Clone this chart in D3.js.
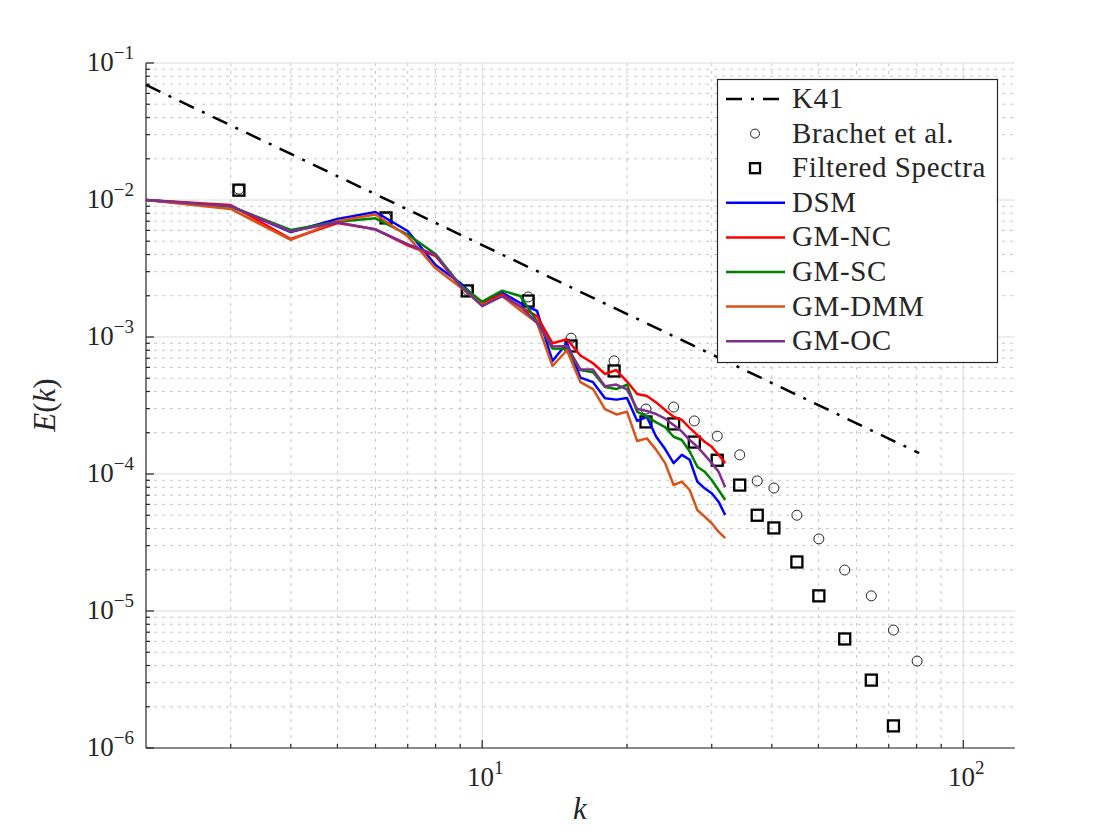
<!DOCTYPE html>
<html>
<head>
<meta charset="utf-8">
<script src="https://cdn.jsdelivr.net/npm/d3@7/dist/d3.min.js"></script>
<style>
  html, body { margin: 0; padding: 0; background: #fff; }
  svg { display: block; }
  text { font-family: "Liberation Serif", "DejaVu Serif", serif; fill: #262626; }
</style>
</head>
<body>
<svg id="chart" width="1120" height="840"></svg>
<script>
// ---------- data ----------
const kLES = [2,3,4,5,6,7,8,9,10,11,12,13,14,15,16,17,18,19,20,21,22,23,24,25,26,27,28,29,30,31,32];

const dsm   = [0.0100,0.00897,0.00584,0.00727,0.00818,0.00594,0.00335,0.00248,0.00174,0.00211,0.00177,0.00155,0.000668,0.000904,0.000505,0.000468,0.000357,0.000349,0.000359,0.000244,0.000261,0.000187,0.000152,0.000120,0.000138,0.000127,0.0000879,0.0000786,0.0000723,0.0000628,0.0000502];
const gmNC  = [0.0100,0.00919,0.00519,0.00679,0.00611,0.00466,0.00390,0.00236,0.00176,0.00205,0.00166,0.00142,0.000900,0.000962,0.000733,0.000643,0.000537,0.000574,0.000473,0.000384,0.000371,0.000333,0.000293,0.000262,0.000248,0.000217,0.000193,0.000172,0.000158,0.000138,0.000120];
const gmSC  = [0.0100,0.00897,0.00604,0.00694,0.00735,0.00560,0.00404,0.00240,0.00181,0.00218,0.00199,0.00130,0.000824,0.000822,0.000574,0.000553,0.000432,0.000417,0.000448,0.000284,0.000263,0.000238,0.000220,0.000187,0.000177,0.000146,0.000113,0.000104,0.0000904,0.0000764,0.0000646];
const gmDMM = [0.0100,0.00860,0.00511,0.00703,0.00784,0.00543,0.00317,0.00232,0.00171,0.00199,0.00157,0.00127,0.000614,0.000800,0.000469,0.000417,0.000298,0.000272,0.000285,0.000174,0.000182,0.000150,0.000120,0.0000831,0.0000879,0.0000764,0.0000546,0.0000488,0.0000437,0.0000379,0.0000340];
const gmOC  = [0.0100,0.00904,0.00589,0.00687,0.00609,0.00477,0.00397,0.00236,0.00168,0.00199,0.00168,0.00127,0.000852,0.000860,0.000578,0.000578,0.000437,0.000450,0.000414,0.000298,0.000288,0.000274,0.000254,0.000228,0.000204,0.000177,0.000158,0.000138,0.000120,0.000104,0.0000800];

const brachetK = [3.12,6.31,9.31,12.46,15.3,18.8,21.9,25.0,27.6,30.8,34.3,37.3,40.4,45.1,50.1,56.7,64.4,71.6,80.2];
const brachetE = [1.20e-2,7.4e-3,2.2e-3,1.96e-3,9.8e-4,6.7e-4,2.98e-4,3.08e-4,2.44e-4,1.89e-4,1.38e-4,8.9e-5,7.9e-5,5.0e-5,3.36e-5,1.99e-5,1.29e-5,7.26e-6,4.31e-6];

const filteredK = [3.12,6.31,9.31,12.46,15.3,18.8,21.9,25.0,27.6,30.8,34.3,37.3,40.4,45.1,50.1,56.7,64.4,71.6];
const filteredE = [1.18e-2,7.4e-3,2.17e-3,1.83e-3,8.6e-4,5.65e-4,2.40e-4,2.32e-4,1.71e-4,1.26e-4,8.3e-5,5.0e-5,4.04e-5,2.28e-5,1.29e-5,6.25e-6,3.13e-6,1.45e-6];

const k41K = [2, 81];
const k41E = [0.0691, 1.42e-4];

const seriesNames = ["DSM","GM-NC","GM-SC","GM-DMM","GM-OC"];
const seriesData  = [dsm, gmNC, gmSC, gmDMM, gmOC];
const seriesColors = ["#0000ff","#ff0000","#008000","#d95319","#7e2f8e"];

const xTickVals = [10, 100];
const xTickExp  = ["1","2"];
const yTickVals = [1e-1,1e-2,1e-3,1e-4,1e-5,1e-6];
const yTickExp  = ["\u22121","\u22122","\u22123","\u22124","\u22125","\u22126"];

// ---------- layout ----------
const L = 146, R = 1014.8, T = 63, B = 748;
const svg = d3.select("#chart");
const x = d3.scaleLog().domain([2, 128]).range([L, R]);
const y = d3.scaleLog().domain([1e-6, 1e-1]).range([B, T]);

// minor values
const xMinor = [];
[1,10,100].forEach(d => { for (let m = 2; m <= 9; m++) { const v = d*m; if (v > 2 && v < 128) xMinor.push(v); } });
const yMinor = [];
[1e-6,1e-5,1e-4,1e-3,1e-2].forEach(d => { for (let m = 2; m <= 9; m++) yMinor.push(d*m); });

// ---------- grid ----------
const grid = svg.append("g");
grid.selectAll(".xmin").data(xMinor).join("line")
  .attr("x1", d => x(d)).attr("x2", d => x(d)).attr("y1", T).attr("y2", B)
  .attr("stroke", "#c6c6c6").attr("stroke-width", 1).attr("stroke-dasharray", "3,5");
grid.selectAll(".ymin").data(yMinor).join("line")
  .attr("x1", L).attr("x2", R).attr("y1", d => y(d)).attr("y2", d => y(d))
  .attr("stroke", "#c6c6c6").attr("stroke-width", 1).attr("stroke-dasharray", "3,5");
grid.selectAll(".xmaj").data(xTickVals).join("line")
  .attr("x1", d => x(d)).attr("x2", d => x(d)).attr("y1", T).attr("y2", B)
  .attr("stroke", "#dcdcdc").attr("stroke-width", 1);
grid.selectAll(".ymaj").data(yTickVals).join("line")
  .attr("x1", L).attr("x2", R).attr("y1", d => y(d)).attr("y2", d => y(d))
  .attr("stroke", "#dcdcdc").attr("stroke-width", 1);

// ---------- axes (spines + inward ticks) ----------
const ax = svg.append("g").attr("stroke", "#262626").attr("stroke-width", 1.2);
ax.append("line").attr("x1", L).attr("x2", L).attr("y1", T).attr("y2", B);
ax.append("line").attr("x1", L).attr("x2", R).attr("y1", B).attr("y2", B);
ax.selectAll(".ytm").data(yTickVals).join("line")
  .attr("x1", L).attr("x2", L + 8).attr("y1", d => y(d)).attr("y2", d => y(d));
ax.selectAll(".ytn").data(yMinor).join("line")
  .attr("x1", L).attr("x2", L + 4).attr("y1", d => y(d)).attr("y2", d => y(d));
ax.selectAll(".xtm").data(xTickVals).join("line")
  .attr("x1", d => x(d)).attr("x2", d => x(d)).attr("y1", B).attr("y2", B - 8);
ax.selectAll(".xtn").data(xMinor).join("line")
  .attr("x1", d => x(d)).attr("x2", d => x(d)).attr("y1", B).attr("y2", B - 4);

// tick labels
const yl = svg.append("g");
yTickVals.forEach((v, i) => {
  const t = yl.append("text").attr("x", 134).attr("y", y(v) + 8).attr("text-anchor", "end")
    .attr("font-size", 27);
  t.append("tspan").text("10");
  t.append("tspan").attr("dy", -12).attr("font-size", 19).text(yTickExp[i]);
});
xTickVals.forEach((v, i) => {
  const t = svg.append("text").attr("x", x(v) + 3).attr("y", 786).attr("text-anchor", "middle")
    .attr("font-size", 27);
  t.append("tspan").text("10");
  t.append("tspan").attr("dy", -12).attr("font-size", 19).text(xTickExp[i]);
});

// axis labels
svg.append("text").attr("x", 580).attr("y", 819).attr("text-anchor", "middle")
  .attr("font-size", 31).attr("font-style", "italic").text("k");
const ylab = svg.append("text").attr("transform", "translate(55,405) rotate(-90)")
  .attr("text-anchor", "middle").attr("font-size", 31);
ylab.append("tspan").attr("font-style", "italic").text("E");
ylab.append("tspan").text("(");
ylab.append("tspan").attr("font-style", "italic").text("k");
ylab.append("tspan").text(")");

// ---------- data marks ----------
const line = d3.line().x(d => x(d[0])).y(d => y(d[1]));

// K41
svg.append("path").datum(d3.zip(k41K, k41E)).attr("d", line)
  .attr("fill", "none").attr("stroke", "#000").attr("stroke-width", 2.5)
  .attr("stroke-dasharray", "16,9,3,9");

// Brachet circles
svg.append("g").selectAll("circle").data(d3.zip(brachetK, brachetE)).join("circle")
  .attr("cx", d => x(d[0])).attr("cy", d => y(d[1])).attr("r", 5)
  .attr("fill", "none").attr("stroke", "#222").attr("stroke-width", 1);

// Filtered squares
svg.append("g").selectAll("rect").data(d3.zip(filteredK, filteredE)).join("rect")
  .attr("x", d => x(d[0]) - 5.5).attr("y", d => y(d[1]) - 5.5)
  .attr("width", 11).attr("height", 11)
  .attr("fill", "none").attr("stroke", "#000").attr("stroke-width", 2.3);

// LES curves
seriesData.forEach((s, i) => {
  svg.append("path").datum(d3.zip(kLES, s)).attr("d", line)
    .attr("fill", "none").attr("stroke", seriesColors[i]).attr("stroke-width", 2.5)
    .attr("stroke-linejoin", "round");
});

// ---------- legend ----------
const lg = svg.append("g");
lg.append("rect").attr("x", 717.5).attr("y", 79.5).attr("width", 280).attr("height", 283)
  .attr("fill", "#fff").attr("stroke", "#262626").attr("stroke-width", 1.2);
const rowY = i => 99 + i * 34.6;
const legendLabels = ["K41", "Brachet et al.", "Filtered Spectra"].concat(seriesNames);
legendLabels.forEach((lab, i) => {
  const yy = rowY(i);
  if (i === 0) {
    lg.append("line").attr("x1", 726).attr("x2", 785).attr("y1", yy).attr("y2", yy)
      .attr("stroke", "#000").attr("stroke-width", 2.5).attr("stroke-dasharray", "16,9,3,9");
  } else if (i === 1) {
    lg.append("circle").attr("cx", 755).attr("cy", yy).attr("r", 4.5)
      .attr("fill", "none").attr("stroke", "#222").attr("stroke-width", 1);
  } else if (i === 2) {
    lg.append("rect").attr("x", 750).attr("y", yy - 5).attr("width", 10).attr("height", 10)
      .attr("fill", "none").attr("stroke", "#000").attr("stroke-width", 2.3);
  } else {
    lg.append("line").attr("x1", 726).attr("x2", 785).attr("y1", yy).attr("y2", yy)
      .attr("stroke", seriesColors[i - 3]).attr("stroke-width", 2.5);
  }
  lg.append("text").attr("x", 792).attr("y", yy + 9).attr("font-size", 29)
    .attr("letter-spacing", 0.6).text(lab);
});
</script>
</body>
</html>
